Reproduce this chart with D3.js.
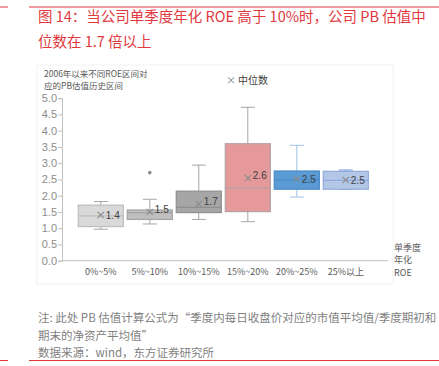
<!DOCTYPE html>
<html>
<head>
<meta charset="utf-8">
<script src="https://cdn.jsdelivr.net/npm/d3@7"></script>
<style>
  body { margin: 0; background: #fff; font-family: "Noto Sans CJK SC", "Liberation Sans", sans-serif; }
</style>
</head>
<body>
<div id="chart-area"></div>
<script>
// ROE 区间
var categories = ['0%~5%', '5%~10%', '10%~15%', '15%~20%', '20%~25%', '25%以上'];
var whiskerLow = [0.97, 1.13, 1.27, 1.20, 1.96, 2.20];
var q1 = [1.05, 1.27, 1.48, 1.51, 2.20, 2.20];
var median = [1.38, 1.48, 1.64, 2.24, 2.48, 2.47];
var q3 = [1.71, 1.56, 2.14, 3.60, 2.76, 2.75];
var whiskerHigh = [1.82, 1.89, 2.94, 4.72, 3.55, 2.79];
var means = [1.40, 1.50, 1.74, 2.56, 2.50, 2.47];
var outliers = [{ cat: '5%~10%', value: 2.71 }];
var yTicks = [0, 0.5, 1, 1.5, 2, 2.5, 3, 3.5, 4, 4.5, 5];

var fills = ['#d9d9d9', '#bfbfbf', '#a6a6a6', '#e6999a', '#5b9bd5', '#b4c7e7'];
var strokes = ['#bdbdbd', '#a3a3a3', '#8f8f8f', '#b3a2a2', '#4a8ac6', '#8faadc'];
var whiskerColors = ['#a6a6a6', '#a6a6a6', '#a6a6a6', '#a6a6a6', '#9dc3e6', '#6f94d6'];

var W = 439, H = 366;
var svg = d3.select('#chart-area').append('svg')
    .attr('width', W)
    .attr('height', H);

// red rules
svg.append('line').attr('x1', 0).attr('x2', 8).attr('y1', 7).attr('y2', 7)
    .attr('stroke', '#e0393e').attr('stroke-width', 1);
svg.append('line').attr('x1', 29).attr('x2', 439).attr('y1', 7).attr('y2', 7)
    .attr('stroke', '#e0393e').attr('stroke-width', 1);
svg.append('line').attr('x1', 0).attr('x2', 8).attr('y1', 360.5).attr('y2', 360.5)
    .attr('stroke', '#e0393e').attr('stroke-width', 1);
svg.append('line').attr('x1', 29).attr('x2', 439).attr('y1', 360.5).attr('y2', 360.5)
    .attr('stroke', '#e0393e').attr('stroke-width', 1);

// title
var title = svg.append('text')
    .attr('fill', '#e0393e')
    .attr('style', 'font-size: 14.5px');
title.append('tspan').attr('x', 38).attr('y', 22)
    .text('图 14：当公司单季度年化 ROE 高于 10%时，公司 PB 估值中');
title.append('tspan').attr('x', 38).attr('y', 47)
    .text('位数在 1.7 倍以上');

// chart panel
svg.append('rect')
    .attr('x', 37).attr('y', 65)
    .attr('width', 356).attr('height', 219)
    .attr('fill', '#fff')
    .attr('stroke', '#f2f2f2');

var sub = svg.append('text').attr('fill', '#595959').attr('style', 'font-size: 8.5px');
sub.append('tspan').attr('x', 44).attr('y', 77).text('2006年以来不同ROE区间对');
sub.append('tspan').attr('x', 44).attr('y', 89).text('应的PB估值历史区间');

// legend
svg.append('text').attr('x', 226).attr('y', 84)
    .attr('fill', '#808080').attr('style', 'font-size: 10px').text('×');
svg.append('text').attr('x', 238).attr('y', 84)
    .attr('fill', '#404040').attr('style', 'font-size: 10px').text('中位数');

var x = d3.scaleBand()
    .domain(categories)
    .range([76.3, 370.3])
    .paddingInner(0.08)
    .paddingOuter(0.04);

var y = d3.scaleLinear()
    .domain([0, 5])
    .range([260.7, 98.2]);

// y axis
var yAxis = svg.append('g')
    .attr('transform', 'translate(62,0)')
    .call(d3.axisLeft(y).tickValues(yTicks).tickSize(4).tickFormat(d3.format('.1f')));
yAxis.select('.domain').attr('stroke', '#bfbfbf');
yAxis.selectAll('.tick line').attr('stroke', '#bfbfbf');
yAxis.selectAll('.tick text')
    .attr('fill', '#8c8c8c')
    .attr('x', -5)
    .attr('style', 'font-size: 11px; font-family: "Liberation Sans", sans-serif');

// x axis line
svg.append('line')
    .attr('x1', 62).attr('x2', 388)
    .attr('y1', y(0)).attr('y2', y(0))
    .attr('stroke', '#bfbfbf');

svg.selectAll('.x-label').data(categories).enter().append('text')
    .attr('class', 'x-label')
    .attr('x', d => x(d) + x.bandwidth() / 2)
    .attr('y', 275)
    .attr('text-anchor', 'middle')
    .attr('fill', '#595959')
    .attr('style', 'font-size: 9px')
    .text(d => d);

var xTitle = svg.append('text').attr('fill', '#595959').attr('style', 'font-size: 9px');
xTitle.append('tspan').attr('x', 394).attr('y', 251).text('单季度');
xTitle.append('tspan').attr('x', 394).attr('y', 263).text('年化');
xTitle.append('tspan').attr('x', 394).attr('y', 276).text('ROE');

// boxes
var boxes = svg.selectAll('.box').data(categories).enter().append('g')
    .attr('class', 'box');

boxes.append('line')
    .attr('x1', d => x(d) + x.bandwidth() / 2)
    .attr('x2', d => x(d) + x.bandwidth() / 2)
    .attr('y1', (d, i) => y(whiskerHigh[i]))
    .attr('y2', (d, i) => y(q3[i]))
    .attr('stroke', (d, i) => whiskerColors[i]);
boxes.append('line')
    .attr('x1', d => x(d) + x.bandwidth() / 2)
    .attr('x2', d => x(d) + x.bandwidth() / 2)
    .attr('y1', (d, i) => y(whiskerLow[i]))
    .attr('y2', (d, i) => y(q1[i]))
    .attr('stroke', (d, i) => whiskerColors[i]);
boxes.append('line')
    .attr('x1', d => x(d) + x.bandwidth() / 2 - 7)
    .attr('x2', d => x(d) + x.bandwidth() / 2 + 7)
    .attr('y1', (d, i) => y(whiskerHigh[i]))
    .attr('y2', (d, i) => y(whiskerHigh[i]))
    .attr('stroke', (d, i) => whiskerColors[i]);
boxes.append('line')
    .attr('x1', d => x(d) + x.bandwidth() / 2 - 7)
    .attr('x2', d => x(d) + x.bandwidth() / 2 + 7)
    .attr('y1', (d, i) => y(whiskerLow[i]))
    .attr('y2', (d, i) => y(whiskerLow[i]))
    .attr('stroke', (d, i) => whiskerColors[i]);

boxes.append('rect')
    .attr('x', d => x(d))
    .attr('y', (d, i) => y(q3[i]))
    .attr('width', x.bandwidth())
    .attr('height', (d, i) => y(q1[i]) - y(q3[i]))
    .attr('fill', (d, i) => fills[i])
    .attr('stroke', (d, i) => strokes[i])
    .attr('stroke-width', 1.2);

boxes.append('line')
    .attr('x1', d => x(d))
    .attr('x2', d => x(d) + x.bandwidth())
    .attr('y1', (d, i) => y(median[i]))
    .attr('y2', (d, i) => y(median[i]))
    .attr('stroke', (d, i) => strokes[i])
    .attr('stroke-width', 1.2);

// mean markers
boxes.append('text')
    .attr('x', d => x(d) + x.bandwidth() / 2)
    .attr('y', (d, i) => y(means[i]) + 4)
    .attr('text-anchor', 'middle')
    .attr('fill', '#8c8c8c')
    .attr('style', 'font-size: 13px; font-family: "DejaVu Sans", sans-serif')
    .text('×');
boxes.append('text')
    .attr('x', d => x(d) + x.bandwidth() / 2 + 5)
    .attr('y', (d, i) => y(means[i]) + (i === 0 || i > 3 ? 4 : 1))
    .attr('fill', '#404040')
    .attr('style', 'font-size: 10px; font-family: "Liberation Sans", sans-serif')
    .text((d, i) => d3.format('.1f')(means[i]));

// outliers
svg.selectAll('.outlier').data(outliers).enter().append('circle')
    .attr('class', 'outlier')
    .attr('cx', d => x(d.cat) + x.bandwidth() / 2)
    .attr('cy', d => y(d.value))
    .attr('r', 1.8)
    .attr('fill', '#8c8c8c');

// footnote
var note = svg.append('text').attr('fill', '#7f7f7f').attr('style', 'font-size: 11.5px');
note.append('tspan').attr('x', 38).attr('y', 322)
    .text('注: 此处 PB 估值计算公式为“季度内每日收盘价对应的市值平均值/季度期初和');
note.append('tspan').attr('x', 38).attr('y', 340)
    .text('期末的净资产平均值”');
note.append('tspan').attr('x', 38).attr('y', 357)
    .text('数据来源：wind，东方证券研究所');
</script>
</body>
</html>
